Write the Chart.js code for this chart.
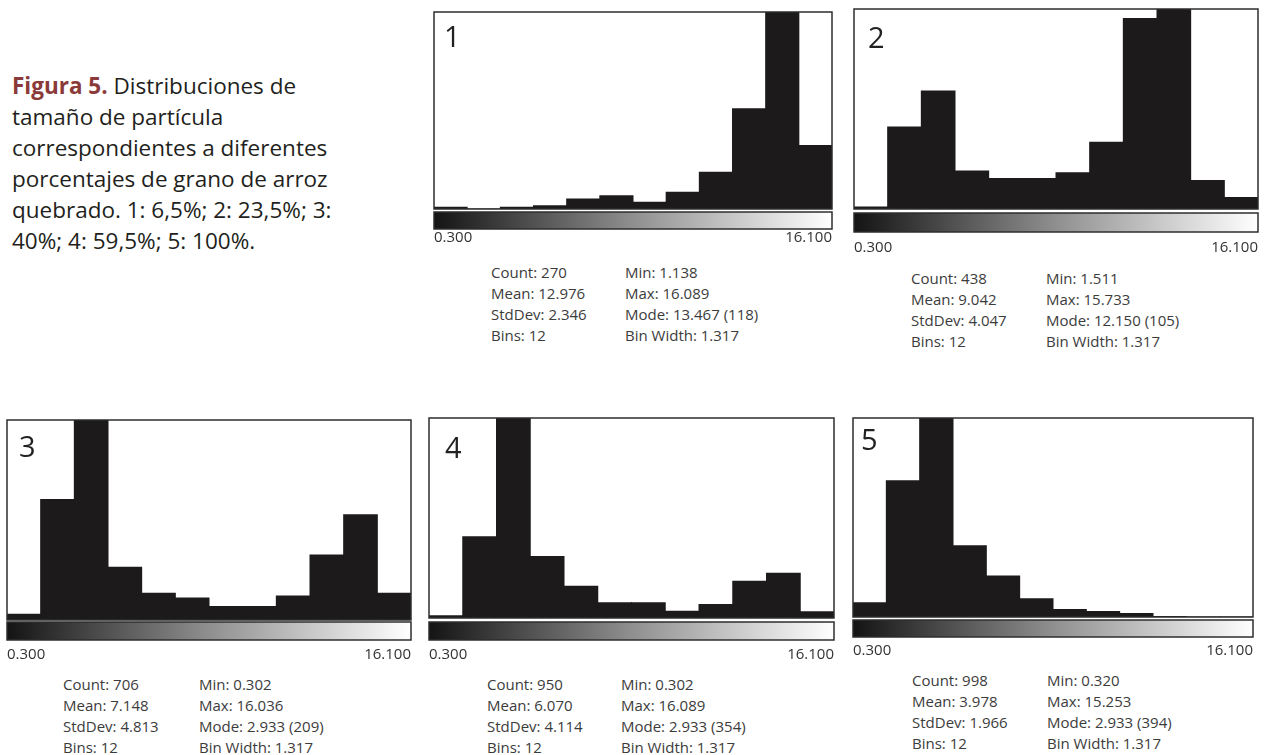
<!DOCTYPE html>
<html lang="es">
<head>
<meta charset="utf-8">
<title>Figura 5</title>
<script src="https://cdn.jsdelivr.net/npm/chart.js@4.4.0/dist/chart.umd.min.js"></script>
<style>
  html, body { margin: 0; padding: 0; background: #fff; }
  body { width: 1268px; height: 755px; position: relative; overflow: hidden; font-family: 'Open Sans', sans-serif; }
  .caption { position: absolute; left: 12px; top: 70px; font-size: 22.5px; line-height: 31px; white-space: nowrap; color: #231f20; }
  .caption b { color: #8b3a3a; }
  canvas { position: absolute; }
  .num { position: absolute; font-size: 29px; line-height: 1; color: #222; }
  .stats { position: absolute; font-size: 15px; line-height: 21px; color: #3c3c3c; white-space: nowrap; }
</style>
</head>
<body>

<div class="caption"><b>Figura 5.</b> Distribuciones de<br>tamaño de partícula<br>correspondientes a diferentes<br>porcentajes de grano de arroz<br>quebrado. 1: 6,5%; 2: 23,5%; 3:<br>40%; 4: 59,5%; 5: 100%.</div>

<script>
// bin start values (12 bins, width 1.317)
var binStarts = ['0.300', '1.617', '2.934', '4.251', '5.568', '6.885', '8.202', '9.519', '10.836', '12.153', '13.470', '14.787'];
// range of the grey scale bar
var rangeTicks = [0.3, 16.1];

// counts per bin
var counts1 = [1, 0, 1, 2, 6, 8, 4, 10, 22, 60, 118, 38];
var counts2 = [1, 43, 62, 20, 16, 16, 19, 35, 100, 105, 15, 6];
var counts3 = [6, 126, 209, 55, 28, 23, 14, 14, 25, 68, 110, 28];
var counts4 = [4, 144, 354, 109, 56, 27, 27, 12, 24, 65, 79, 11];
var counts5 = [28, 270, 394, 141, 81, 36, 15, 11, 7, 1, 0, 0];

var panelNames = ['1', '2', '3', '4', '5'];

var statsLeft1 = ['Count: 270', 'Mean: 12.976', 'StdDev: 2.346', 'Bins: 12'];
var statsRight1 = ['Min: 1.138', 'Max: 16.089', 'Mode: 13.467 (118)', 'Bin Width: 1.317'];
var statsLeft2 = ['Count: 438', 'Mean: 9.042', 'StdDev: 4.047', 'Bins: 12'];
var statsRight2 = ['Min: 1.511', 'Max: 15.733', 'Mode: 12.150 (105)', 'Bin Width: 1.317'];
var statsLeft3 = ['Count: 706', 'Mean: 7.148', 'StdDev: 4.813', 'Bins: 12'];
var statsRight3 = ['Min: 0.302', 'Max: 16.036', 'Mode: 2.933 (209)', 'Bin Width: 1.317'];
var statsLeft4 = ['Count: 950', 'Mean: 6.070', 'StdDev: 4.114', 'Bins: 12'];
var statsRight4 = ['Min: 0.302', 'Max: 16.089', 'Mode: 2.933 (354)', 'Bin Width: 1.317'];
var statsLeft5 = ['Count: 998', 'Mean: 3.978', 'StdDev: 1.966', 'Bins: 12'];
var statsRight5 = ['Min: 0.320', 'Max: 15.253', 'Mode: 2.933 (394)', 'Bin Width: 1.317'];

// page layout of each panel (plot box, grey bar, labels, number, stats)
var layouts = [
    { x: 434, y: 12, w: 398, h: 197, gap: 3, barH: 17, pad: 20, numX: 444, numY: 21, sx1: 491, sx2: 625, sy: 262 },
    { x: 854, y: 9, w: 404, h: 200, gap: 4, barH: 19, pad: 30, numX: 868, numY: 22, sx1: 911, sx2: 1046, sy: 268 },
    { x: 7, y: 420, w: 404, h: 200, gap: 2, barH: 18, pad: 26, numX: 19, numY: 431, sx1: 63, sx2: 199, sy: 674 },
    { x: 429, y: 418, w: 405, h: 200, gap: 4, barH: 18, pad: 28, numX: 445, numY: 432, sx1: 487, sx2: 621, sy: 674 },
    { x: 853, y: 418, w: 400, h: 199, gap: 3, barH: 17, pad: 25, numX: 861, numY: 424, sx1: 912, sx2: 1047, sy: 670 }
];

Chart.defaults.font.family = "'Open Sans', sans-serif";

// draws the plot frame and the grey scale bar under it
var framePlugin = {
    id: 'frame',
    afterDraw: function (chart, args, opts) {
        var ctx = chart.ctx;
        var a = chart.chartArea;
        var top = a.bottom + opts.gap;
        ctx.save();
        var grad = ctx.createLinearGradient(a.left, 0, a.right, 0);
        grad.addColorStop(0, '#141414');
        grad.addColorStop(0.5, '#8f8f8f');
        grad.addColorStop(1, '#ffffff');
        ctx.fillStyle = grad;
        ctx.fillRect(a.left, top, a.right - a.left, opts.barH);
        ctx.strokeStyle = '#2e2e2e';
        ctx.lineWidth = 1.5;
        ctx.strokeRect(a.left, top, a.right - a.left, opts.barH);
        ctx.strokeRect(a.left, a.top, a.right - a.left, a.bottom - a.top);
        ctx.restore();
    }
};

function addText(cls, left, top, html) {
    var d = document.createElement('div');
    d.className = cls;
    d.style.left = left + 'px';
    d.style.top = top + 'px';
    d.innerHTML = html;
    document.body.appendChild(d);
}

function makePanel(i, counts, statsLeft, statsRight) {
    var L = layouts[i];
    var axisH = L.pad + 20;
    var canvas = document.createElement('canvas');
    canvas.width = L.w + 4;
    canvas.height = L.h + 2 + axisH;
    canvas.style.left = (L.x - 2) + 'px';
    canvas.style.top = (L.y - 2) + 'px';
    document.body.appendChild(canvas);

    new Chart(canvas.getContext('2d'), {
        type: 'bar',
        data: {
            labels: binStarts,
            datasets: [{
                data: counts,
                backgroundColor: '#1c1a1b',
                borderWidth: 0,
                barPercentage: 1,
                categoryPercentage: 1,
                inflateAmount: 0.5
            }]
        },
        options: {
            responsive: false,
            animation: false,
            layout: { padding: { top: 2, left: 2, right: 2, bottom: 0 } },
            scales: {
                x: { display: false },
                y: { display: false, min: 0, max: Math.max.apply(null, counts) },
                xr: {
                    type: 'linear',
                    axis: 'x',
                    position: 'bottom',
                    offset: false,
                    min: rangeTicks[0],
                    max: rangeTicks[1],
                    afterBuildTicks: function (scale) {
                        scale.ticks = rangeTicks.map(function (v) { return { value: v }; });
                    },
                    afterFit: function (scale) {
                        // labels sit inside the bar ends, so no side padding is needed
                        scale.height = axisH;
                        scale.paddingLeft = 0;
                        scale.paddingRight = 0;
                    },
                    grid: { display: false, drawTicks: false },
                    border: { display: false },
                    ticks: {
                        align: 'inner',
                        padding: L.pad,
                        color: '#333',
                        font: { size: 15 },
                        callback: function (v) { return Number(v).toFixed(3); }
                    }
                }
            },
            plugins: {
                legend: { display: false },
                tooltip: { enabled: false },
                frame: { gap: L.gap, barH: L.barH }
            }
        },
        plugins: [framePlugin]
    });

    addText('num', L.numX, L.numY, panelNames[i]);
    addText('stats', L.sx1, L.sy, statsLeft.join('<br>'));
    addText('stats', L.sx2, L.sy, statsRight.join('<br>'));
}

document.addEventListener('DOMContentLoaded', function () {
    makePanel(0, counts1, statsLeft1, statsRight1);
    makePanel(1, counts2, statsLeft2, statsRight2);
    makePanel(2, counts3, statsLeft3, statsRight3);
    makePanel(3, counts4, statsLeft4, statsRight4);
    makePanel(4, counts5, statsLeft5, statsRight5);
});
</script>
</body>
</html>
